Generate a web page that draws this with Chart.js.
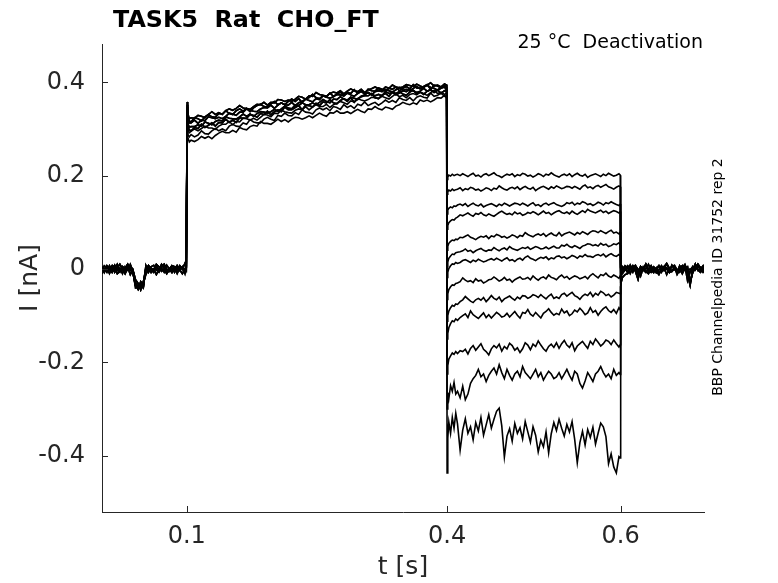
<!DOCTYPE html>
<html>
<head>
<meta charset="utf-8">
<title>TASK5 Rat CHO_FT</title>
<script src="https://cdn.jsdelivr.net/npm/chart.js@4.4.1/dist/chart.umd.min.js"></script>
<style>
  body { margin: 0; background: #fff; }
  #chart { display: block; }
</style>
</head>
<body>
<canvas id="chart" width="778" height="583"></canvas>
<script>
// Sample times of the four protocol segments [s]
const tBase = [0.002,0.005,0.008,0.011,0.014,0.017,0.02,0.023,0.026,0.029,0.032,0.035,0.038,0.041,0.044,0.047,0.05,0.053,0.056,0.059,0.062,0.065,0.068,0.071,0.074,0.077,0.08,0.083,0.086,0.089,0.092,0.095,0.098,0.0995];
const tAct = [0.1005,0.1012,0.103,
    0.105,0.109,0.113,0.117,0.121,0.125,0.129,0.133,0.137,0.141,0.145,0.149,0.153,0.157,0.161,0.165,0.169,0.173,0.177,0.181,
    0.185,0.189,0.193,0.197,0.201,0.205,0.209,0.213,0.217,0.221,0.225,0.229,0.233,0.237,0.241,0.245,0.249,0.253,0.257,0.261,
    0.265,0.269,0.273,0.277,0.281,0.285,0.289,0.293,0.297,0.301,0.305,0.309,0.313,0.317,0.321,0.325,0.329,0.333,0.337,0.341,
    0.345,0.349,0.353,0.357,0.361,0.365,0.369,0.373,0.377,0.381,0.385,0.389,0.393,0.397,0.3995];
const tDeact = [0.4,0.4008,0.402,0.404,0.406,0.408,0.41,
    0.412,0.415,0.418,0.421,0.424,0.427,0.43,0.433,0.436,0.439,0.442,0.445,0.448,0.451,0.454,0.457,0.46,0.463,0.466,0.469,
    0.472,0.475,0.478,0.481,0.484,0.487,0.49,0.493,0.496,0.499,0.502,0.505,0.508,0.511,0.514,0.517,0.52,0.523,0.526,0.529,
    0.532,0.535,0.538,0.541,0.544,0.547,0.55,0.553,0.556,0.559,0.562,0.565,0.568,0.571,0.574,0.577,0.58,0.583,0.586,0.589,
    0.592,0.595,0.598,0.5995];
const tTail = [0.6,0.6006,0.602,0.605,0.608,0.611,0.614,0.617,0.62,0.623,0.626,0.629,0.632,0.635,0.638,0.641,0.644,0.647,0.65,0.653,0.656,0.659,0.662,0.665,0.668,0.671,0.674,0.677,0.68,0.683,0.686,0.689,0.692,0.695,0.698];

// Holding current before the pulse [pA]
const base1 = [5,-2,7,0,-7,2,10,-5,0,-10,2,7,-2,-30,-38,-33,-40,7,-7,2,-2,10,5,-5,0,-10,-2,7,2,-7,5,0,12,2];
const base2 = [-5,0,-7,7,-2,2,-10,-5,5,0,10,2,-7,-36,-44,-27,-34,-2,7,-5,0,-12,-2,5,10,0,-5,2,-7,7,-2,-10,0,5];
const base3 = [-10,0,5,-2,7,-7,2,10,0,-5,5,-12,-2,-23,-31,-45,-28,2,7,0,-7,5,-2,10,2,-5,0,7,5,-2,7,0,-7,2];
const base4 = [-5,7,2,-10,3,8,-2,-7,5,0,10,-3,-8,-33,-41,-37,-29,-12,0,5,8,-2,-7,3,10,-5,0,-8,2,7,-3,5,-10,3];
const base5 = [3,-8,5,0,-7,8,-3,2,-10,5,-2,10,-5,-40,-35,-42,-38,0,3,-8,-2,7,-3,2,-7,8,0,-5,3,-10,2,5,-2,-3];

// Activating pulse 0.1 - 0.4 s [pA]
const actA = [358,333,322,324,323,329,327,324,331,337,331,335,331,339,343,340,344,350,345,344,342,348,353,352,357,351,357,356,363,362,359,362,359,364,370,368,364,371,370,378,374,372,370,376,379,377,382,375,381,386,382,380,385,378,384,386,390,386,383,390,387,394,390,388,390,395,393,391,396,392,389,394,399,392,394,390,396,394];
const actF = [352,328,317,315,324,322,317,326,331,326,325,333,332,339,333,331,339,343,338,344,337,345,350,353,348,347,354,359,352,356,352,359,364,359,365,357,364,367,374,367,365,371,369,377,370,374,379,371,379,376,384,376,381,375,385,382,381,388,385,381,387,385,390,382,387,391,386,395,388,387,391,395,385,394,392,388,396,393];
const actB = [347,323,313,313,319,312,319,318,326,324,322,325,322,327,334,332,329,336,336,343,340,338,337,343,346,345,351,344,351,356,352,351,357,350,356,359,364,361,358,365,363,371,368,366,369,374,373,371,377,373,370,376,381,375,378,373,380,382,380,385,382,379,384,389,383,385,381,387,391,386,390,394,389,387,383,389,392,389];
const actC = [336,312,304,305,305,309,306,315,312,309,316,319,317,326,323,322,321,326,332,327,332,327,333,337,336,334,337,342,338,343,349,345,343,351,350,356,352,352,356,352,357,363,359,356,364,363,369,364,362,368,366,363,370,373,378,374,371,374,371,380,376,378,373,377,382,380,386,382,378,381,387,381,384,378,383,387,390,383];
const actG = [330,306,298,296,303,301,310,303,308,313,306,314,313,321,314,319,314,324,323,323,331,329,325,333,331,338,330,337,341,337,347,341,341,346,350,341,351,350,347,355,350,358,356,363,356,354,361,365,359,367,357,365,369,371,371,376,367,365,372,376,370,379,376,380,375,372,379,383,375,379,374,381,384,379,384,376,382,381];
const actD = [325,300,292,295,300,296,301,306,302,302,299,306,310,310,316,309,316,315,323,322,319,323,319,325,331,330,326,334,333,340,337,335,334,340,343,341,348,341,347,352,348,348,353,346,352,355,359,356,353,360,358,365,362,360,363,368,367,365,370,367,364,370,375,369,372,367,374,376,373,379,376,372,378,383,376,379,374,377];
const actH = [310,288,283,288,283,287,296,290,289,296,301,296,300,296,306,310,306,305,313,310,320,315,313,313,321,325,321,318,329,327,334,329,328,335,331,341,336,335,332,341,345,341,345,339,348,346,342,352,346,350,344,353,350,358,350,354,357,351,356,362,357,361,357,367,363,361,367,360,368,371,368,366,377,370,372,377,370,371];
const actE = [315,282,272,276,273,277,284,280,284,279,286,291,295,292,292,297,293,303,300,298,305,308,306,316,312,312,310,315,321,316,320,315,321,325,324,321,324,328,324,329,334,330,327,335,334,339,334,334,337,333,338,342,338,335,343,342,348,343,341,347,345,342,349,352,357,354,352,356,353,362,359,362,358,362,367,366,372,366];

// Deactivating test steps 0.4 - 0.6 s, one trace per test potential [pA]
const deact1 = [192,197,201,199,203,200,202,
    203,200,204,201,198,202,205,199,201,197,202,204,200,203,206,201,199,196,200,203,201,204,198,202,200,205,203,199,201,197,
    200,204,202,198,203,201,206,202,199,197,201,203,200,204,198,202,205,201,199,203,196,200,202,204,201,198,203,200,205,202,199,201,204,201];
const deact2 = [160,165,169,167,171,168,170,
    171,174,168,172,170,175,173,169,171,167,170,174,172,168,173,171,178,174,171,169,173,175,172,176,170,174,177,173,171,175,168,172,
    175,177,174,171,176,173,178,175,172,174,177,176,173,177,174,171,177,180,174,176,172,177,179,175,178,181,176,174,171,175,178,176];
const deact3 = [118,126,130,133,131,135,134,
    137,139,136,140,134,138,141,137,135,139,133,136,138,140,137,134,139,136,141,138,135,
    138,141,140,137,141,138,135,139,142,136,138,134,139,141,137,140,142,138,136,134,137,
    142,140,143,137,141,139,144,142,138,140,136,139,143,141,137,142,140,144,141,138,136,139];
const deact4 = [85,93,99,103,106,105,109,
    111,116,114,117,120,116,113,119,117,121,116,114,118,115,113,117,121,124,120,117,119,116,122,118,120,115,117,121,119,123,120,116,
    120,124,119,121,116,120,123,125,121,119,122,118,124,120,117,121,125,121,128,124,122,120,123,126,121,124,119,122,125,123,120,123];
const deact5 = [40,49,55,59,62,61,64,
    63,68,67,70,73,68,66,63,67,70,68,71,65,71,69,74,72,68,70,66,69,73,71,67,72,70,
    78,74,71,69,73,75,72,76,70,74,77,73,71,78,71,75,77,79,76,73,78,75,80,77,74,79,82,81,78,82,79,76,80,83,77,79,75,79];
const deact6 = [5,15,23,28,32,31,35,
    36,37,39,43,38,40,35,39,42,44,40,38,41,40,46,42,39,43,45,41,48,44,42,40,43,46,
    44,47,42,45,48,46,43,44,47,43,46,49,45,45,51,49,53,48,46,50,47,44,49,51,54,53,50,52,49,55,51,53,48,50,54,52,56,52];
const deact7 = [-18,-7,1,7,11,10,14,
    12,14,18,20,17,14,19,16,21,18,15,17,20,22,19,23,20,17,21,24,18,20,16,21,23,19,
    25,28,23,21,18,22,25,23,26,20,24,22,27,28,24,26,22,25,29,27,23,28,26,31,27,27,25,29,31,28,32,26,30,33,29,27,31,29];
const deact8 = [-65,-53,-44,-38,-34,-35,-31,
    -30,-27,-19,-24,-27,-25,-29,-21,-26,-24,-30,-27,-23,-22,-17,-21,-26,-23,-18,-24,-22,-28,-23,-20,-17,-22,
    -21,-18,-23,-15,-20,-24,-19,-17,-21,-13,-18,-20,-23,-17,-13,-19,-16,-22,-18,-15,-17,-21,-19,-16,-21,
    -14,-10,-15,-19,-12,-14,-9,-15,-18,-13,-16,-20,-15];
const deact9 = [-112,-100,-90,-83,-78,-80,-75,
    -76,-70,-66,-59,-64,-69,-72,-66,-63,-67,-61,-70,-64,-57,-63,-66,-60,-70,-64,-61,-58,-63,-67,-60,-64,-57,
    -58,-63,-60,-55,-57,-61,-55,-60,-64,-58,-54,-63,-60,-63,-55,-52,-58,-54,-50,-57,-60,-65,-58,-54,-57,
    -50,-59,-52,-56,-48,-51,-57,-54,-60,-56,-50,-52,-53];
const deact10 = [-150,-138,-126,-117,-111,-113,-107,
    -110,-104,-100,-96,-104,-90,-98,-102,-106,-100,-94,-104,-98,-105,-99,-93,-97,-103,-101,-95,-103,-97,-91,-99,-105,-93,
    -95,-87,-97,-101,-93,-99,-105,-95,-91,-85,-93,-99,-95,-98,-86,-94,-90,-100,-96,-88,-92,-84,-90,-98,-94,
    -83,-93,-89,-99,-91,-85,-81,-89,-93,-87,-95,-83,-88];
const deact11 = [-225,-207,-193,-186,-180,-183,-177,
    -181,-175,-177,-172,-182,-170,-164,-174,-167,-160,-172,-177,-184,-171,-164,-169,-161,-176,-166,-171,-159,-164,-174,-169,-179,-171,
    -158,-163,-173,-161,-166,-154,-163,-171,-176,-166,-161,-168,-158,-170,-160,-153,-163,-168,-158,-175,-165,-160,-155,-163,-170,
    -155,-162,-150,-157,-165,-160,-152,-155,-162,-152,-160,-167,-162];
const deact12 = [-300,-265,-278,-250,-262,-243,-268,
    -262,-276,-251,-280,-268,-245,
    -235,-228,-215,-231,-225,-241,-228,-219,-212,-225,-205,-222,-235,-215,-228,-238,-225,-219,-231,-209,
    -222,-228,-235,-225,-215,-231,-222,-238,-228,-219,-225,-235,-231,-222,-235,-225,-215,-228,-238,-219,
    -225,-245,-255,-240,-222,-231,-241,-225,-219,-209,-222,-231,-225,-235,-215,-228,-222,-226];
const deact13 = [-437,-362,-328,-352,-318,-341,-309,
    -332,-388,-345,-321,-352,-338,-366,-329,-347,-318,-356,-334,-312,-341,-322,-305,-298,-336,-403,-358,-342,
    -369,-331,-352,-340,-364,-327,-349,-371,-338,-356,-392,-367,-381,-349,-394,-353,-329,-346,-322,-341,-358,
    -333,-349,-327,-365,-415,-372,-348,-377,-344,-361,-339,-375,-352,-330,-338,-359,-417,-396,-424,-437,-402,-405];

// Back to holding potential after 0.6 s [pA]
const tail1 = [3,-6,-5,2,-7,0,7,-2,-10,5,0,10,-2,-7,2,-5,-12,0,5,12,2,-5,0,-7,7,-2,2,-10,-5,5,0,10,2,-7,-2];
const tail2 = [-15,-10,-10,-2,7,2,-7,5,0,-15,2,-5,-10,0,5,-2,7,-7,2,10,0,-5,5,-12,-2,2,7,-25,-7,5,-2,10,2,-5,0];
const tail3 = [-38,-28,-18,-12,-10,0,5,-5,-22,2,-2,-7,0,7,-5,2,-10,-2,5,0,-7,-5,2,-7,0,7,-2,-10,-35,0,10,-2,-7,2,-5];
const tail4 = [-8,-3,-5,7,2,-10,3,8,-2,-7,5,0,10,-3,-8,2,7,-5,3,-12,0,5,8,-2,-7,3,10,-5,0,-8,2,7,-3,5,-10];
const tail5 = [-25,-18,5,0,-7,8,-3,2,-10,5,-2,10,-5,0,3,-8,-2,7,-3,2,-7,8,0,-5,3,-10,2,5,-30,-7,10,-3,0,7,-5];

const xTicks = [0.1, 0.4, 0.6];
const yTicks = [-0.4, -0.2, 0, 0.2, 0.4];

const baseSets = [base1, base2, base3, base4, base5];
const actSets = [actA, actF, actB, actC, actG, actD, actH, actE];
const deactSets = [deact1, deact2, deact3, deact4, deact5, deact6, deact7, deact8, deact9, deact10, deact11, deact12, deact13];
const tailSets = [tail1, tail4, tail1, tail4, tail1, tail2, tail5, tail2, tail5, tail3, tail5, tail3, tail3];

// pA -> nA
function toPoints(times, values) {
    return times.map((t, k) => ({ x: t, y: values[k] / 1000 }));
}

const datasets = deactSets.map((deact, i) => ({
    data: [].concat(
        toPoints(tBase, baseSets[i % baseSets.length]),
        toPoints(tAct, actSets[i % actSets.length]),
        toPoints(tDeact, deact),
        toPoints(tTail, tailSets[i])
    ),
    borderColor: '#000',
    borderWidth: 1.6,
    pointRadius: 0,
    tension: 0,
    fill: false
}));

const axisColor = '#262626';

// inward tick marks and the free-standing texts
const decorations = {
    id: 'decorations',
    afterDraw(chart) {
        const ctx = chart.ctx;
        const xs = chart.scales.x, ys = chart.scales.y;
        const area = chart.chartArea;
        ctx.save();
        ctx.strokeStyle = axisColor;
        ctx.lineWidth = 1;
        ctx.beginPath();
        xTicks.forEach(v => {
            const px = Math.round(xs.getPixelForValue(v)) + 0.5;
            ctx.moveTo(px, area.bottom);
            ctx.lineTo(px, area.bottom - 6);
        });
        yTicks.forEach(v => {
            const py = Math.round(ys.getPixelForValue(v)) + 0.5;
            ctx.moveTo(area.left, py);
            ctx.lineTo(area.left + 6, py);
        });
        ctx.stroke();

        ctx.fillStyle = '#000';
        ctx.textBaseline = 'alphabetic';
        ctx.font = 'bold 23.8px "DejaVu Sans"';
        ctx.textAlign = 'left';
        ctx.fillText('TASK5  Rat  CHO_FT', 113, 27);

        ctx.font = '19px "DejaVu Sans"';
        ctx.textAlign = 'right';
        ctx.fillText('25 °C  Deactivation', 703, 48);

        ctx.translate(722, 277);
        ctx.rotate(-Math.PI / 2);
        ctx.font = '14px "DejaVu Sans"';
        ctx.textAlign = 'center';
        ctx.fillText('BBP Channelpedia ID 31752 rep 2', 0, 0);
        ctx.restore();
    }
};

new Chart(document.getElementById('chart'), {
    type: 'line',
    data: { datasets: datasets },
    options: {
        responsive: false,
        animation: false,
        layout: { padding: { left: 0, top: 44, right: 74, bottom: 0 } },
        plugins: {
            legend: { display: false },
            tooltip: { enabled: false },
            title: { display: false }
        },
        scales: {
            x: {
                type: 'linear',
                min: 0.0024,
                max: 0.696,
                afterFit(scale) { scale.height = 71; },
                afterBuildTicks(scale) { scale.ticks = xTicks.map(v => ({ value: v })); },
                grid: { display: false, drawTicks: false },
                border: { display: true, color: axisColor, width: 1 },
                ticks: {
                    padding: 10,
                    color: axisColor,
                    font: { family: 'DejaVu Sans', size: 24 },
                    callback: v => String(v)
                },
                title: {
                    display: true,
                    text: 't [s]',
                    color: axisColor,
                    font: { family: 'DejaVu Sans', size: 25 },
                    padding: { top: 0, bottom: 1 }
                }
            },
            y: {
                type: 'linear',
                min: -0.5206,
                max: 0.482,
                afterFit(scale) { scale.width = 102; },
                afterBuildTicks(scale) { scale.ticks = yTicks.map(v => ({ value: v })); },
                grid: { display: false, drawTicks: false },
                border: { display: true, color: axisColor, width: 1 },
                ticks: {
                    padding: 17,
                    color: axisColor,
                    font: { family: 'DejaVu Sans', size: 24 },
                    callback: v => String(Math.round(v * 10) / 10)
                },
                title: {
                    display: true,
                    text: 'I [nA]',
                    color: axisColor,
                    font: { family: 'DejaVu Sans', size: 25 },
                    padding: { top: 15, bottom: 0 }
                }
            }
        }
    },
    plugins: [decorations]
});
</script>
</body>
</html>
